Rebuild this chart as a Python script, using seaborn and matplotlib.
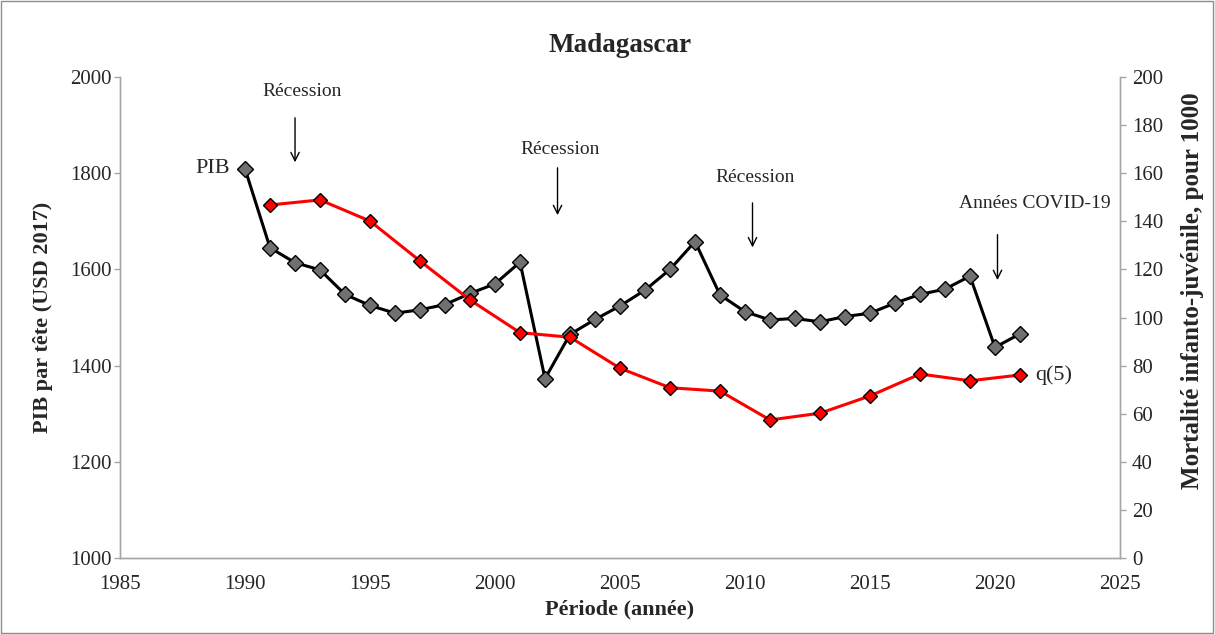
import numpy as np
import pandas as pd
import matplotlib
matplotlib.use('Agg')
import matplotlib.pyplot as plt
import seaborn as sns

# PIB par tete (USD 2017), annual
pib_years = list(range(1990, 2022))
pib_values = [1809, 1645, 1614, 1599, 1548, 1525, 1509, 1516, 1527, 1550,
              1570, 1615, 1373, 1465, 1496, 1524, 1557, 1600, 1658, 1547,
              1512, 1495, 1498, 1491, 1502, 1509, 1530, 1548, 1559, 1586,
              1438, 1466]

# q(5) mortality per 1000, every two years
q5_years = list(range(1991, 2022, 2))
q5_values = [146.8, 148.9, 140.1, 123.5, 107.3, 93.7, 91.8, 78.9,
             70.8, 69.4, 57.4, 60.2, 67.4, 76.5, 73.7, 76.1]

recession_labels = ['Récession', 'Récession', 'Récession', 'Années COVID-19']

sns.set_style('white')
plt.rcParams['font.family'] = ['Liberation Serif', 'DejaVu Serif']

pib = pd.DataFrame({'annee': pib_years, 'pib': pib_values})
q5 = pd.DataFrame({'annee': q5_years, 'q5': q5_values})

fig = plt.figure(figsize=(12.15, 6.34), dpi=100)
ax = fig.add_axes([0.0988, 0.1199, 0.823, 0.7586])
ax2 = ax.twinx()

sns.lineplot(data=pib, x='annee', y='pib', ax=ax, color='black', linewidth=2.2,
             marker='D', markersize=8, markerfacecolor='#707070',
             markeredgecolor='black', markeredgewidth=1)
sns.lineplot(data=q5, x='annee', y='q5', ax=ax2, color='#ff0000', linewidth=2.2,
             marker='D', markersize=7, markerfacecolor='#ff0000',
             markeredgecolor='black', markeredgewidth=1)

ax.set_xlim(1985, 2025)
ax.set_ylim(1000, 2000)
ax2.set_ylim(0, 200)
ax.set_xticks(range(1985, 2026, 5))
ax.set_yticks(range(1000, 2001, 200))
ax2.set_yticks(range(0, 201, 20))

for a in (ax, ax2):
    for s in a.spines.values():
        s.set_color('#a6a6a6')
        s.set_linewidth(1)
    a.spines['top'].set_visible(False)
    a.tick_params(direction='out', length=4.5, color='#a6a6a6', labelsize=15,
                  width=1, pad=1.5)
ax.tick_params(axis='x', pad=8)
ax2.tick_params(axis='y', pad=4)

ax.set_xlabel('Période (année)', fontsize=16, fontweight='bold', labelpad=4)
ax.set_ylabel('PIB par tête (USD 2017)', fontsize=16, fontweight='bold')
ax.yaxis.set_label_coords(-0.067, 0.5)
ax2.set_ylabel('Mortalité infanto-juvénile, pour 1000', fontsize=18,
               fontweight='bold')
ax2.yaxis.set_label_coords(1.061, 0.555)
ax.set_title('Madagascar', fontsize=19.5, fontweight='bold', pad=18)

# recession annotations (text x, text y, arrow x, arrow top, arrow bottom)
ann = [(1992.3, 1969, 1992.0, 1921, 1817),
       (2002.6, 1849, 2002.5, 1817, 1707),
       (2010.4, 1791, 2010.3, 1744, 1640),
       (2021.6, 1737, 2020.1, 1678, 1572)]
for lab, (tx, ty, axx, y0, y1) in zip(recession_labels, ann):
    ax.text(tx, ty, lab, ha='center', va='center', fontsize=14)
    ax.annotate('', xy=(axx, y1), xytext=(axx, y0),
                arrowprops=dict(arrowstyle='->', color='black', lw=1,
                                mutation_scale=15))

ax.text(1989.4, pib_values[0], 'PIB', ha='right', va='center', fontsize=16)
ax2.text(2021.6, q5_values[-1], 'q(5)', ha='left', va='center', fontsize=16)

fig.patches.append(plt.Rectangle((0.001, 0.002), 0.997, 0.996,
                                 transform=fig.transFigure, fill=False,
                                 edgecolor='#8c8c8c', linewidth=1))

fig.savefig('out.png', dpi=100)
